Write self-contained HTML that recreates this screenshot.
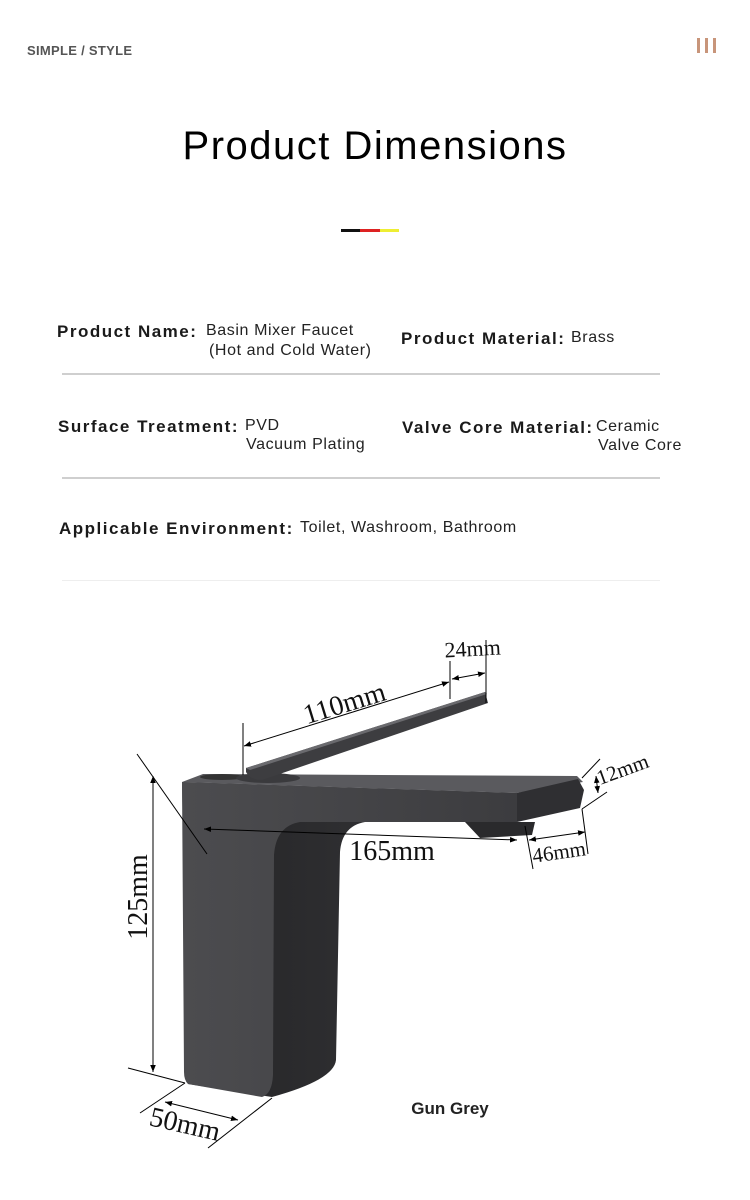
<!DOCTYPE html>
<html><head><meta charset="utf-8"><style>
body{margin:0;width:750px;height:1200px;background:#fff;position:relative;overflow:hidden;font-family:"Liberation Sans",sans-serif;color:#111}
.a{position:absolute;white-space:nowrap;line-height:1}
.l{font-size:17px;font-weight:bold;color:#1a1a1a;letter-spacing:1.5px}
.v{font-size:16px;color:#222;letter-spacing:0.6px}
.hr{position:absolute;left:62px;width:598px;height:2px;background:#cfcfcf}
</style></head><body>
<div class="a" style="left:27px;top:44px;font-size:13px;font-weight:bold;color:#555;letter-spacing:0.3px">SIMPLE / STYLE</div>
<div class="a" style="left:697px;top:38px;width:3px;height:15px;background:#c8957a"></div>
<div class="a" style="left:705px;top:38px;width:3px;height:15px;background:#c8957a"></div>
<div class="a" style="left:713px;top:38px;width:3px;height:15px;background:#c8957a"></div>
<div class="a" style="left:0;width:750px;text-align:center;top:126px;font-size:40px;color:#000;letter-spacing:1.5px">Product Dimensions</div>
<div class="a" style="left:341px;top:229px;width:19px;height:3px;background:#111"></div>
<div class="a" style="left:360px;top:229px;width:20px;height:3px;background:#d22"></div>
<div class="a" style="left:380px;top:229px;width:19px;height:3px;background:#ee3"></div>

<div class="a l" style="left:57px;top:323px">Product Name:</div>
<div class="a v" style="left:206px;top:323px">Basin Mixer Faucet</div>
<div class="a v" style="left:209px;top:343px">(Hot and Cold Water)</div>
<div class="a l" style="left:401px;top:330px">Product Material:</div>
<div class="a v" style="left:571px;top:330px">Brass</div>
<div class="hr" style="top:373px"></div>
<div class="a l" style="left:58px;top:418px">Surface Treatment:</div>
<div class="a v" style="left:245px;top:418px">PVD</div>
<div class="a v" style="left:246px;top:437px">Vacuum Plating</div>
<div class="a l" style="left:402px;top:419px">Valve Core Material:</div>
<div class="a v" style="left:596px;top:419px">Ceramic</div>
<div class="a v" style="left:598px;top:438px">Valve Core</div>
<div class="hr" style="top:477px"></div>
<div class="a l" style="left:59px;top:520px">Applicable Environment:</div>
<div class="a v" style="left:300px;top:520px">Toilet, Washroom, Bathroom</div>
<div class="hr" style="top:580px;height:1px;background:#eee"></div>

<svg class="a" style="left:0;top:0" width="750" height="1200" viewBox="0 0 750 1200">
<defs>
<linearGradient id="g" x1="0" y1="0" x2="1" y2="0"><stop offset="0" stop-color="#4c4c4f"/><stop offset="1" stop-color="#3c3c3f"/></linearGradient>
<linearGradient id="s" x1="0" y1="0" x2="1" y2="0"><stop offset="0" stop-color="#242426"/><stop offset="1" stop-color="#38383b"/></linearGradient>
<marker id="ar" viewBox="0 0 10 10" refX="10" refY="5" markerWidth="7" markerHeight="7" orient="auto-start-reverse"><path d="M0,1 L10,5 L0,9 z" fill="#000"/></marker>
</defs>
<!-- side/back silhouette -->
<path d="M182,782 L517,793 L517,822 L365,822 Q342,826 340,852 L336,1060 Q334,1080 272,1097 L188,1084 Z" fill="url(#s)"/>
<!-- front face -->
<path d="M182,782 L517,793 L517,822 L300,822 Q276,826 274,855 L273,1075 Q272,1094 262,1097 L188,1084 Q184,1080 184,1072 Z" fill="url(#g)"/>
<path d="M182,782 L203,774 L577,776 L583,782 L517,793 Z" fill="#5a5a5e"/>
<path d="M517,793 L578,779 L584,790 L580,808 L517,822 Z" fill="#2f2f32"/>
<path d="M465,822 L535,822 L532,835 L480,838 Z" fill="#2a2a2c"/>
<ellipse cx="222" cy="777" rx="22" ry="3" fill="#333"/>
<ellipse cx="268" cy="778" rx="32" ry="5" fill="#3a3a3d"/>
<!-- lever -->
<path d="M246,768 L485,692 L488,703 L262,780 Q250,780 246,772 Z" fill="#3d3d40"/>
<path d="M246,768 L485,692 L487,694 L250,770 Z" fill="#6a6a6e"/>
<g stroke="#000" stroke-width="1" fill="none">
<line x1="137" y1="754" x2="207" y2="854"/>
<line x1="128" y1="1068" x2="185" y2="1083"/>
<line x1="153" y1="776" x2="153" y2="1072" marker-start="url(#ar)" marker-end="url(#ar)"/>
<line x1="140" y1="1113" x2="185" y2="1083"/>
<line x1="208" y1="1148" x2="272" y2="1098"/>
<line x1="165" y1="1102" x2="238" y2="1120" marker-start="url(#ar)" marker-end="url(#ar)"/>
<line x1="243" y1="723" x2="243" y2="775"/>
<line x1="450" y1="661" x2="450" y2="699"/>
<line x1="244" y1="746" x2="449" y2="682" marker-start="url(#ar)" marker-end="url(#ar)"/>
<line x1="486" y1="640" x2="486" y2="703"/>
<line x1="452" y1="679" x2="485" y2="673" marker-start="url(#ar)" marker-end="url(#ar)"/>
<line x1="204" y1="829" x2="517" y2="840" marker-start="url(#ar)" marker-end="url(#ar)"/>
<line x1="525" y1="826" x2="533" y2="869"/>
<line x1="582" y1="809" x2="588" y2="854"/>
<line x1="529" y1="840" x2="585" y2="832" marker-start="url(#ar)" marker-end="url(#ar)"/>
<line x1="582" y1="778" x2="600" y2="759"/>
<line x1="582" y1="809" x2="607" y2="792"/>
<line x1="596" y1="776" x2="598" y2="793" marker-start="url(#ar)" marker-end="url(#ar)"/>
</g>
<g font-family="Liberation Serif, serif" fill="#111">
<text x="0" y="0" font-size="28" transform="translate(147,897) rotate(-90)" text-anchor="middle">125mm</text>
<text x="0" y="0" font-size="28" transform="translate(183,1133) rotate(13)" text-anchor="middle">50mm</text>
<text x="0" y="0" font-size="28" transform="translate(347,712) rotate(-17)" text-anchor="middle">110mm</text>
<text x="473" y="656" font-size="22" text-anchor="middle" transform="rotate(-3,473,656)">24mm</text>
<text x="392" y="860" font-size="28" text-anchor="middle">165mm</text>
<text x="0" y="0" font-size="21" transform="translate(560,859) rotate(-8)" text-anchor="middle">46mm</text>
<text x="0" y="0" font-size="21" transform="translate(625,776) rotate(-20)" text-anchor="middle">12mm</text>
</g>
<text x="450" y="1114" font-size="17" font-weight="bold" fill="#222" text-anchor="middle" font-family="Liberation Sans, sans-serif">Gun Grey</text>
</svg>
</body></html>
